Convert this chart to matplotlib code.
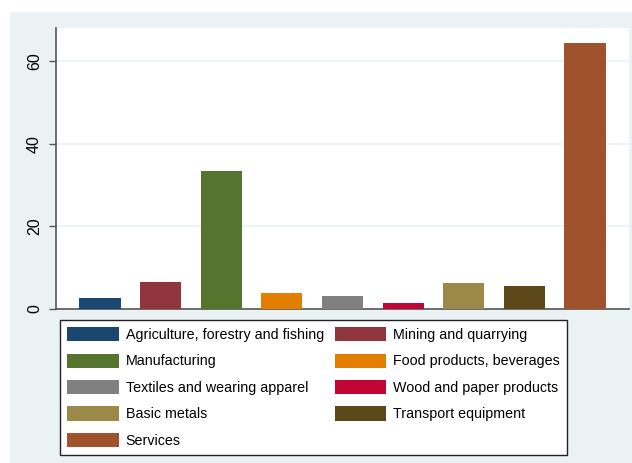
import matplotlib.pyplot as plt
from matplotlib.patches import Patch, Rectangle

plt.rcParams['font.family'] = ['Liberation Sans', 'DejaVu Sans']

sectors = ['Agriculture, forestry and fishing', 'Mining and quarrying', 'Manufacturing',
           'Food products, beverages', 'Textiles and wearing apparel', 'Wood and paper products',
           'Basic metals', 'Transport equipment', 'Services']
values = [2.6, 6.45, 33.4, 3.8, 3.15, 1.4, 6.2, 5.65, 64.3]
colors = ['#1A476F', '#90353B', '#55752F', '#E37E00', '#808080', '#C10534',
          '#9C8847', '#5C4719', '#A0522D']
yticks = [0, 20, 40, 60]

fig = plt.figure(figsize=(6.32, 4.63), dpi=100, facecolor='white')
# light Stata-like background panel
fig.patches.append(Rectangle((10 / 632, 0), 1 - 10 / 632, 1 - 12 / 463,
                             transform=fig.transFigure, facecolor='#EAF2F3',
                             edgecolor='none', zorder=-5))

ax = fig.add_axes([56 / 632, 1 - 309 / 463, (629 - 56) / 632, (309 - 28) / 463])
ax.set_facecolor('white')

x = list(range(len(values)))
ax.bar(x, values, width=0.68, color=colors, zorder=3)

ax.set_xlim(-0.726, 8.726)
ax.set_ylim(0, 68)
ax.set_xticks([])
ax.set_yticks(yticks)
ax.set_yticklabels([str(t) for t in yticks], rotation=90, va='center', fontsize=11.5)
ax.tick_params(axis='y', length=5, width=1, color='#555555', pad=5)
ax.grid(axis='y', color='#EAF2F3', linewidth=1.2, zorder=0)

for side in ['top', 'right']:
    ax.spines[side].set_visible(False)
for side in ['left', 'bottom']:
    ax.spines[side].set_color('#555555')
    ax.spines[side].set_linewidth(1.2)

# legend ordered row by row, two columns
order = [0, 2, 4, 6, 8, 1, 3, 5, 7]
handles = [Patch(facecolor=colors[i], edgecolor='none') for i in order]
labels = [sectors[i] for i in order]
leg = fig.legend(handles, labels, ncol=2, loc='upper left',
                 bbox_to_anchor=(60 / 632, 1 - 320 / 463), borderaxespad=0,
                 fontsize=10.3, handlelength=3.6, handleheight=1.15,
                 handletextpad=0.5, labelspacing=0.8, columnspacing=0.75,
                 borderpad=0.5, fancybox=False, frameon=True, framealpha=1)
leg.get_frame().set_edgecolor('#222222')
leg.get_frame().set_linewidth(1.0)
leg.get_frame().set_facecolor('white')

fig.savefig('out.png', dpi=100, facecolor='white')
